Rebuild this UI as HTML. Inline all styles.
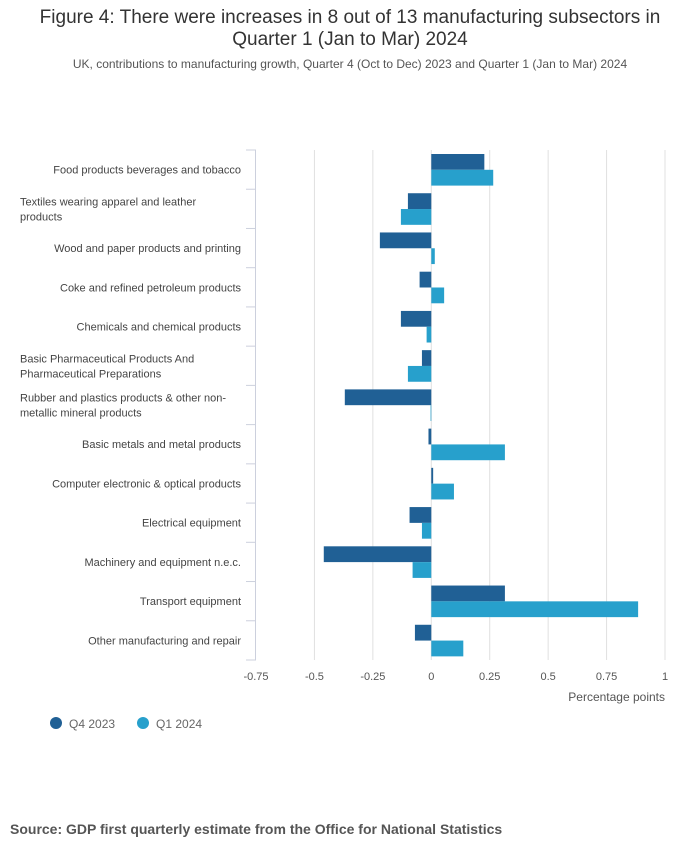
<!DOCTYPE html>
<html><head><meta charset="utf-8"><style>
body{margin:0;background:#fff;font-family:"Liberation Sans","DejaVu Sans",sans-serif;}
#wrap{position:relative;width:700px;height:857px;overflow:hidden}
.t{position:absolute;left:0;width:700px;text-align:center;color:#222}
</style></head><body>
<div id="wrap">
<div class="t" style="top:7px;font-size:19px;line-height:22px;color:#333">Figure 4: There were increases in 8 out of 13 manufacturing subsectors in<br>Quarter 1 (Jan to Mar) 2024</div>
<div class="t" style="top:57px;font-size:12px;color:#555;">UK, contributions to manufacturing growth, Quarter 4 (Oct to Dec) 2023 and Quarter 1 (Jan to Mar) 2024</div>
<svg id="svg" width="700" height="857" style="position:absolute;left:0;top:0"></svg>
<div style="position:absolute;left:10px;top:821px;font-size:14px;font-weight:bold;color:#555">Source: GDP first quarterly estimate from the Office for National Statistics</div>
</div>
<script>
const categories=["Food products beverages and tobacco","Textiles wearing apparel and leather|products","Wood and paper products and printing","Coke and refined petroleum products","Chemicals and chemical products","Basic Pharmaceutical Products And|Pharmaceutical Preparations","Rubber and plastics products & other non-|metallic mineral products","Basic metals and metal products","Computer electronic & optical products","Electrical equipment","Machinery and equipment n.e.c.","Transport equipment","Other manufacturing and repair"];
const q4Values=[0.227,-0.10,-0.22,-0.05,-0.13,-0.04,-0.37,-0.012,0.008,-0.093,-0.46,0.315,-0.07];
const q1Values=[0.265,-0.13,0.015,0.055,-0.02,-0.10,-0.003,0.315,0.097,-0.04,-0.08,0.885,0.137];
const tickValues=[-0.75,-0.5,-0.25,0,0.25,0.5,0.75,1];
const tickLabels=["-0.75","-0.5","-0.25","0","0.25","0.5","0.75","1"];
const seriesNames=["Q4 2023","Q1 2024"];
const NS="http://www.w3.org/2000/svg";
const svg=document.getElementById('svg');
const x0=256,x1=665,yTop=150,yBottom=660;
const xs=v=>x0+(v-(-0.75))/(1.75)*(x1-x0);
const band=(yBottom-yTop)/categories.length;
function mk(tag,attrs,parent){const e=document.createElementNS(NS,tag);for(const k in attrs)e.setAttribute(k,attrs[k]);(parent||svg).appendChild(e);return e;}
tickValues.forEach((v,i)=>{
 if(v!==-0.75){const g=mk('line',{x1:xs(v),x2:xs(v),y1:yTop,y2:yBottom,stroke:'#e0e0e0','stroke-width':1});
 
 }
 const t=mk('text',{x:xs(v),y:680,'text-anchor':'middle','font-size':11,fill:'#555'});t.textContent=tickLabels[i];
 
 
});
const ax=mk('line',{x1:255.5,x2:255.5,y1:yTop,y2:yBottom,stroke:'#ccd0dd','stroke-width':1});


for(let i=0;i<=categories.length;i++){const y=yTop+i*band;const tk=mk('line',{x1:246,x2:256,y1:y,y2:y,stroke:'#ccd0dd'});

}
const bh=15.8;
categories.forEach((c,i)=>{
 const yb=yTop+i*band+4;
 [[q4Values,'#206095',yb],[q1Values,'#27a0cc',yb+bh]].forEach(([arr,col,y],s)=>{
  const v=arr[i];const a=xs(0),b=xs(v);
  const r=mk('rect',{x:Math.min(a,b),y:y,width:Math.max(Math.abs(b-a),0.5),height:bh,fill:col});
  
  
 });
 const lines=c.split('|');const cy=yTop+(i+0.5)*band;
 lines.forEach((l,j)=>{
  const multi=lines.length>1;
  const t=mk('text',{x:multi?20:241,y:cy+4+(j-(lines.length-1)/2)*15,'text-anchor':multi?'start':'end','font-size':11,fill:'#444'});
  t.textContent=l;
  
  
 });
});
const xt=mk('text',{x:665,y:701,'text-anchor':'end','font-size':12,fill:'#555'});xt.textContent="Percentage points";


[[56,'#206095'],[143,'#27a0cc']].forEach(([x,col],i)=>{
 const c=mk('circle',{cx:x,cy:723,r:6,fill:col});
 
 
 const t=mk('text',{x:x+13,y:728,'font-size':12,fill:'#666'});t.textContent=seriesNames[i];
 
 
});
</script>
</body></html>
